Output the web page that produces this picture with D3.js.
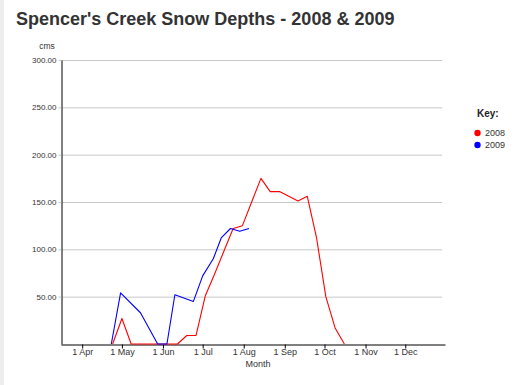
<!DOCTYPE html>
<html>

<head>
    <title>Spencer's Creek Snow Depths</title>
    <script src='https://cdn.jsdelivr.net/npm/d3@7'></script>
    <style type='text/css'>
        html,
        body {
            margin: 0;
            padding: 0;
            overflow: hidden;
            background: white;
        }

        svg {
            width: 527px;
            height: 385px;
            display: block;
        }

        text {
            font-family: 'Liberation Sans', Arial, Helvetica, sans-serif;
        }
    </style>
</head>

<body>
    <script>
        // Data (dates are day-month, both seasons drawn on one calendar):
        const dates2008 = ['04-24', '05-01', '05-08', '05-15', '05-22', '05-29', '06-05', '06-12', '06-19',
            '06-26', '07-03', '07-10', '07-17', '07-24', '07-31', '08-07', '08-14', '08-21', '08-28',
            '09-04', '09-11', '09-18', '09-25', '10-02', '10-09', '10-16'];
        const depths2008 = [0, 27, 0, 0, 0, 0, 0, 0, 9, 9, 51, 74, 98, 122, 125, 150, 175, 161, 161,
            156, 151, 156, 112, 50, 17, 0];
        const dates2009 = ['04-23', '04-30', '05-15', '05-28', '06-04', '06-10', '06-24', '07-01',
            '07-09', '07-15', '07-22', '07-29', '08-05'];
        const depths2009 = [0, 54, 33, 0, 0, 52, 45, 72, 90, 112, 122, 119, 122];
        const seriesNames = ['2008', '2009'];
        const seriesColors = ['#ff0000', '#0000ff'];
        const monthTicks = ['04-01', '05-01', '06-01', '07-01', '08-01', '09-01', '10-01', '11-01', '12-01'];
        const depthTicks = [50, 100, 150, 200, 250, 300];

        const parseDay = d3.timeParse('%Y-%m-%d');
        const toDate = (md) => parseDay('2008-' + md);

        const series = [
            { name: seriesNames[0], color: seriesColors[0], points: dates2008.map((d, i) => ({ date: toDate(d), value: depths2008[i] })) },
            { name: seriesNames[1], color: seriesColors[1], points: dates2009.map((d, i) => ({ date: toDate(d), value: depths2009[i] })) }
        ];

        // page setup:
        const svg = d3.select('body').append('svg');

        // faint strip down the left edge
        svg.append('rect')
            .attr('x', 0).attr('y', 0)
            .attr('width', 4).attr('height', 385)
            .attr('fill', '#ededed');

        // scales:
        const x = d3.scaleTime()
            .domain([toDate('03-16'), toDate('12-31')])
            .range([61, 445]);
        const y = d3.scaleLinear()
            .domain([0, 300])
            .range([344, 60]);

        // Title:
        svg.append('text')
            .attr('x', 16)
            .attr('y', 25)
            .attr('font-size', 18)
            .attr('font-weight', 'bold')
            .attr('fill', '#333')
            .text("Spencer's Creek Snow Depths - 2008 & 2009");

        // Gridlines:
        svg.append('g')
            .selectAll('line')
            .data(depthTicks)
            .join('line')
            .attr('x1', 61)
            .attr('x2', 442)
            .attr('y1', d => y(d) + 0.5)
            .attr('y2', d => y(d) + 0.5)
            .attr('stroke', '#c8c8c8')
            .attr('stroke-width', 1);

        // Y axis:
        const yAxis = svg.append('g')
            .attr('transform', 'translate(61.5,0)')
            .call(d3.axisLeft(y).tickValues(depthTicks).tickFormat(d3.format('.2f')).tickSize(3).tickSizeOuter(0));
        yAxis.select('.domain').attr('stroke', '#000');
        yAxis.selectAll('.tick line').attr('stroke', '#c8c8c8');
        yAxis.selectAll('.tick text')
            .attr('font-family', "'Liberation Sans', Arial, sans-serif")
            .attr('font-size', 8)
            .attr('fill', '#333')
            .attr('x', -5);

        svg.append('text')
            .attr('x', 47)
            .attr('y', 49)
            .attr('text-anchor', 'middle')
            .attr('font-size', 8.5)
            .attr('fill', '#333')
            .text('cms');

        // X axis:
        const xAxis = svg.append('g')
            .attr('transform', 'translate(0,344.5)')
            .call(d3.axisBottom(x).tickValues(monthTicks.map(toDate)).tickFormat(d3.timeFormat('%-d %b')).tickSize(4).tickSizeOuter(0));
        xAxis.select('.domain').attr('stroke', '#000');
        xAxis.selectAll('.tick line').attr('stroke', '#000');
        xAxis.selectAll('.tick text')
            .attr('font-family', "'Liberation Sans', Arial, sans-serif")
            .attr('font-size', 9)
            .attr('fill', '#333')
            .attr('y', 4);

        svg.append('text')
            .attr('x', 258)
            .attr('y', 367)
            .attr('text-anchor', 'middle')
            .attr('font-size', 9)
            .attr('fill', '#333')
            .text('Month');

        // Lines:
        const line = d3.line()
            .x(d => x(d.date))
            .y(d => y(d.value));

        svg.append('g')
            .selectAll('path')
            .data(series)
            .join('path')
            .attr('d', d => line(d.points))
            .attr('fill', 'none')
            .attr('stroke', d => d.color)
            .attr('stroke-width', 1.1)
            .attr('stroke-linejoin', 'round');

        // Legend:
        const legend = svg.append('g')
            .attr('transform', 'translate(477,0)');
        legend.append('text')
            .attr('x', 0)
            .attr('y', 117)
            .attr('font-size', 10)
            .attr('font-weight', 'bold')
            .attr('fill', '#222')
            .text('Key:');
        const item = legend.selectAll('.item')
            .data(series)
            .join('g')
            .attr('class', 'item')
            .attr('transform', (d, i) => `translate(0, ${133 + i * 12})`);
        item.append('circle')
            .attr('cx', 0.5)
            .attr('cy', 0)
            .attr('r', 3.2)
            .attr('fill', d => d.color);
        item.append('text')
            .attr('x', 8)
            .attr('y', 3)
            .attr('font-size', 9)
            .attr('fill', '#333')
            .text(d => d.name);
    </script>
</body>

</html>
